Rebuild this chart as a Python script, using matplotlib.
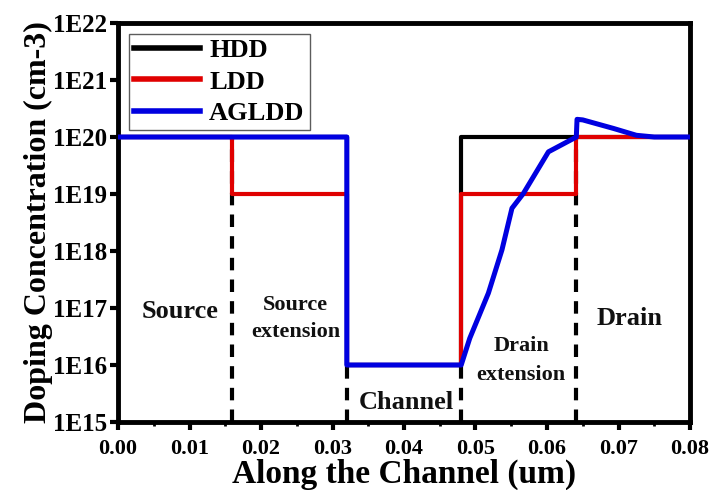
import numpy as np
import matplotlib
matplotlib.use('agg')
import matplotlib.pyplot as plt
from matplotlib.ticker import FixedLocator, FuncFormatter, MultipleLocator, LogLocator

# doping profiles along the channel (x in um, concentration in cm-3)
hdd_x = [0.0, 0.032, 0.032, 0.048, 0.048, 0.08]
hdd_y = [1e20, 1e20, 1e16, 1e16, 1e20, 1e20]

ldd_x = [0.0, 0.016, 0.016, 0.032, 0.032, 0.048, 0.048, 0.064, 0.064, 0.08]
ldd_y = [1e20, 1e20, 1e19, 1e19, 1e16, 1e16, 1e19, 1e19, 1e20, 1e20]

agldd_x = [0.0, 0.032, 0.032, 0.048, 0.0492, 0.0518, 0.0537, 0.0551, 0.0567,
           0.0602, 0.0641, 0.0642, 0.0650, 0.0693, 0.0725, 0.075, 0.08]
agldd_exp = [20, 20, 16, 16, 16.47, 17.26, 18.02, 18.75, 19.01,
             19.74, 20.0, 20.31, 20.3, 20.15, 20.03, 20.0, 20.0]

# region boundaries and how high each dashed marker reaches
bounds = [0.016, 0.032, 0.048, 0.064]
bound_top = [1e20, 1e16, 1e16, 1e20]

regions = ["Source", "Source\nextension", "Channel", "Drain\nextension", "Drain"]
region_x = [0.0087, 0.0248, 0.0403, 0.0564, 0.0716]
region_y = [10**16.93, 10**16.82, 10**15.35, 10**16.08, 10**16.82]
region_size = [19, 16, 19, 16, 19]
region_gap = [1.2, 1.45, 1.2, 1.6, 1.2]

plt.rcParams['font.family'] = ['Liberation Serif', 'DejaVu Serif']
plt.rcParams['font.weight'] = 'bold'

fig = plt.figure(figsize=(7.12, 4.90), dpi=100)
ax = fig.add_axes([118/712, 68/490, 572/712, 399/490])

for xb, yt in zip(bounds, bound_top):
    ax.plot([xb, xb], [1e15, yt], color='black', lw=3, ls=(0, (3, 2.2)), zorder=1)

ax.plot(hdd_x, hdd_y, color='black', lw=3.0, label='HDD', zorder=2)
ax.plot(ldd_x, ldd_y, color='#e00000', lw=3.0, label='LDD', zorder=3)
ax.plot(agldd_x, np.power(10.0, agldd_exp), color='#0000e0', lw=3.6, label='AGLDD', zorder=4)

for t, x, y, s, g in zip(regions, region_x, region_y, region_size, region_gap):
    ax.text(x, y, t, ha='center', va='center', fontsize=s, fontweight='bold',
            color='#111111', linespacing=g, zorder=5)

ax.set_yscale('log')
ax.set_xlim(0, 0.08)
ax.set_ylim(1e15, 1e22)
ax.xaxis.set_major_locator(MultipleLocator(0.01))
ax.xaxis.set_minor_locator(MultipleLocator(0.005))
ax.xaxis.set_major_formatter(FuncFormatter(lambda v, p: f"{v:.2f}"))
ax.yaxis.set_major_locator(FixedLocator([10.0**k for k in range(15, 23)]))
ax.yaxis.set_minor_locator(LogLocator(base=10, subs=np.arange(2, 10)))
ax.yaxis.set_major_formatter(FuncFormatter(lambda v, p: f"1E{int(round(np.log10(v)))}"))
ax.yaxis.set_minor_formatter(FuncFormatter(lambda v, p: ""))

ax.tick_params(axis='both', which='major', direction='out', length=6, width=3)
ax.tick_params(axis='both', which='minor', direction='out', length=3, width=2)
ax.tick_params(axis='x', labelsize=16, pad=6)
ax.tick_params(axis='y', labelsize=18, pad=2)
for sp in ax.spines.values():
    sp.set_linewidth(3.5)

ax.set_xlabel("Along the Channel (um)", fontsize=24, fontweight='bold', labelpad=0)
ax.set_ylabel("Doping Concentration (cm-3)", fontsize=23, fontweight='bold', labelpad=0)

leg = ax.legend(loc='upper left', fontsize=19, frameon=True, fancybox=False,
                edgecolor='#333333', handlelength=2.5, borderaxespad=0.4,
                labelspacing=0.3, handletextpad=0.35, borderpad=0.2)
leg.get_frame().set_linewidth(1.0)
for ln in leg.get_lines():
    ln.set_linewidth(4)
for t in leg.get_texts():
    t.set_fontweight('bold')

fig.savefig('out.png', dpi=100)
